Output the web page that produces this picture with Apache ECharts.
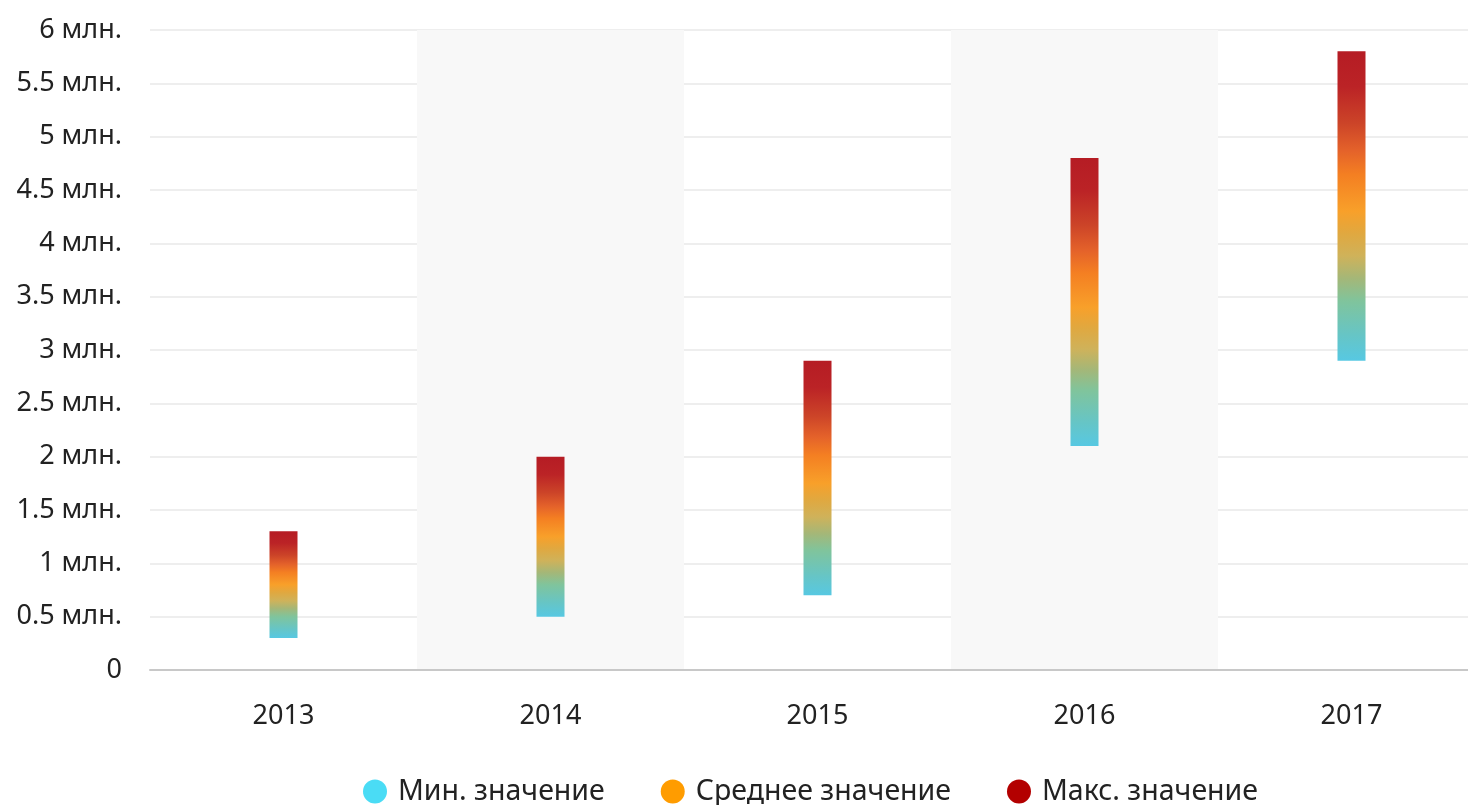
<!DOCTYPE html>
<html>
<head>
<meta charset="utf-8">
<script src="https://cdn.jsdelivr.net/npm/echarts@6/dist/echarts.min.js"></script>
<style>
  html, body { margin: 0; padding: 0; background: #fff; }
  #chart { width: 1468px; height: 805px; }
</style>
</head>
<body>
<div id="chart"></div>
<script>
// data
const years = ["2013", "2014", "2015", "2016", "2017"];
const minValues = [300000, 500000, 700000, 2100000, 2900000];
const avgValues = [800000, 1250000, 1750000, 3400000, 4300000];
const maxValues = [1300000, 2000000, 2900000, 4800000, 5800000];
const yTicks = [0, 500000, 1000000, 1500000, 2000000, 2500000, 3000000, 3500000, 4000000, 4500000, 5000000, 5500000, 6000000];

const legendColors = ["#4adcf5", "#ff9c00", "#b30000"];

const fmt = (v) => (v === 0 ? "0" : (v / 1000000).toString() + " млн.");

// gradient from top (max) through orange (avg) to cyan (min)
const rangeGradient = (mn, av, mx) => {
  const t = (mx - av) / (mx - mn);
  const b = (1 - t);
  return new echarts.graphic.LinearGradient(0, 0, 0, 1, [
    { offset: 0, color: "#b51c24" },
    { offset: t * 0.22, color: "#bb2326" },
    { offset: t * 0.45, color: "#cc4428" },
    { offset: t * 0.62, color: "#e4622a" },
    { offset: t * 0.77, color: "#f47f22" },
    { offset: t, color: "#f8a02a" },
    { offset: t + b * 0.15, color: "#e0a840" },
    { offset: t + b * 0.3, color: "#cfb25a" },
    { offset: t + b * 0.45, color: "#a4b778" },
    { offset: t + b * 0.6, color: "#80c49c" },
    { offset: t + b * 0.83, color: "#66c5c6" },
    { offset: 1, color: "#57c8e2" }
  ]);
};

const chart = echarts.init(document.getElementById("chart"));

const font = "'Noto Sans', sans-serif";

chart.setOption({
  animation: false,
  textStyle: { fontFamily: font },
  grid: { left: 150, width: 1335, top: 30, bottom: 135, outerBoundsMode: "none", containLabel: false },
  legend: {
    left: 363,
    top: 777,
    padding: 0,
    itemWidth: 24,
    itemHeight: 24,
    itemGap: 56,
    icon: "circle",
    textStyle: { fontSize: 28.5, color: "#222", fontFamily: font, padding: [0, 0, 0, 6] },
    data: [
      { name: "Мин. значение", itemStyle: { color: legendColors[0], opacity: 1 } },
      { name: "Среднее значение", itemStyle: { color: legendColors[1], opacity: 1 } },
      { name: "Макс. значение", itemStyle: { color: legendColors[2], opacity: 1 } }
    ]
  },
  xAxis: {
    type: "category",
    data: years,
    axisTick: { show: false },
    axisLine: { lineStyle: { color: "#c8c8c8", width: 2 } },
    axisLabel: { fontSize: 27, color: "#222", margin: 33 },
    splitArea: { show: true, areaStyle: { color: ["rgba(0,0,0,0)", "#f8f8f8"] } }
  },
  yAxis: {
    type: "value",
    min: yTicks[0],
    max: yTicks[yTicks.length - 1],
    interval: yTicks[1] - yTicks[0],
    axisLine: { show: false },
    axisTick: { show: false },
    axisLabel: { fontSize: 27, color: "#222", margin: 28, formatter: fmt },
    splitLine: { lineStyle: { color: "#eeeeee", width: 2 } }
  },
  series: [
    {
      name: "Мин. значение",
      type: "bar",
      stack: "range",
      barWidth: 28,
      itemStyle: { color: "rgba(0,0,0,0)" },
      data: minValues
    },
    {
      name: "Макс. значение",
      type: "bar",
      stack: "range",
      barWidth: 28,
      itemStyle: { color: legendColors[2] },
      data: maxValues.map((mx, i) => ({
        value: mx - minValues[i],
        itemStyle: { color: rangeGradient(minValues[i], avgValues[i], mx) }
      }))
    },
    {
      name: "Среднее значение",
      type: "scatter",
      symbolSize: 0,
      itemStyle: { color: legendColors[1], opacity: 1 },
      data: avgValues
    }
  ]
});
</script>
</body>
</html>
